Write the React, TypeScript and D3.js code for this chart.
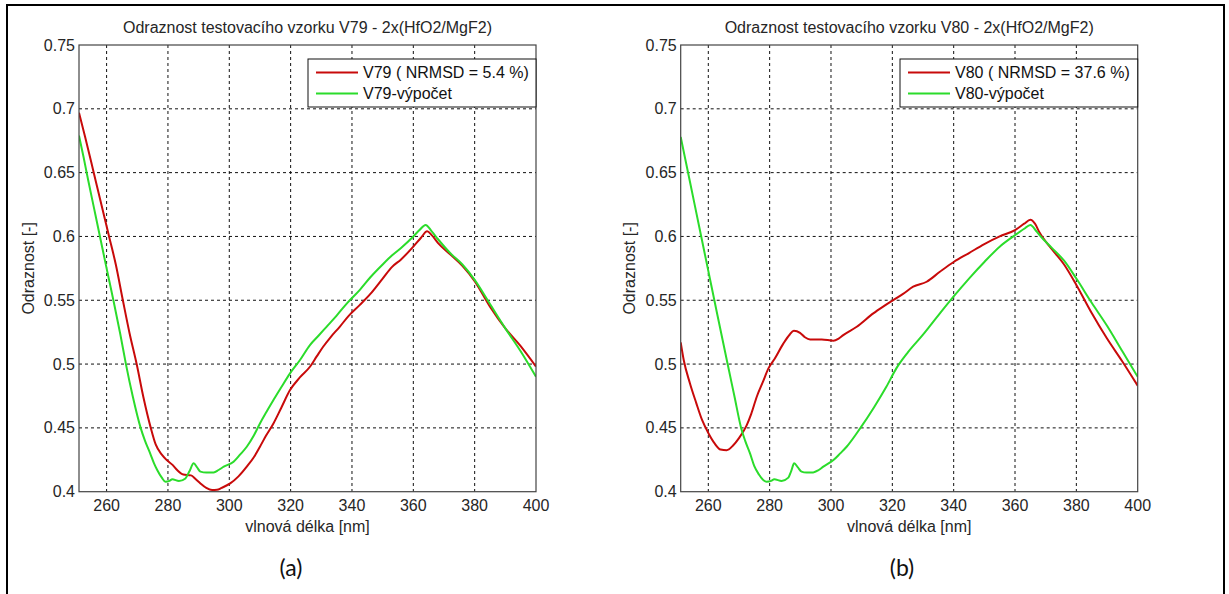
import React from "react";
import * as d3 from "d3";

// Axis ticks and ranges
const WAVELENGTH_TICKS = [260, 280, 300, 320, 340, 360, 380, 400];
const REFLECTANCE_TICKS = [0.4, 0.45, 0.5, 0.55, 0.6, 0.65, 0.7, 0.75];
const WAVELENGTH_RANGE = [251, 400];
const REFLECTANCE_RANGE = [0.4, 0.75];

// V79 – measured reflectance
const v79MeasuredNm = [251, 253, 256, 258, 260.8, 263, 265.3, 267.5, 269.8, 272, 274.4, 276, 278, 279.6, 281.5, 283, 285, 287.5, 289, 290.6, 292.5, 294.4, 296, 297.5, 300.3, 303, 305.7, 308, 310, 312, 314.4, 317, 319.8, 323, 326.3, 328.5, 330.6, 333, 336, 339, 342.5, 346, 350, 353, 356, 360, 362.5, 364.5, 366, 368, 372, 376, 380, 385, 390, 395, 400];
const v79MeasuredR = [0.697, 0.678, 0.648, 0.628, 0.6, 0.578, 0.55, 0.524, 0.5, 0.474, 0.45, 0.437, 0.429, 0.4248, 0.421, 0.417, 0.4135, 0.4128, 0.41, 0.4065, 0.403, 0.4013, 0.4015, 0.403, 0.4065, 0.412, 0.4196, 0.427, 0.4353, 0.444, 0.4535, 0.466, 0.4796, 0.4895, 0.4979, 0.506, 0.5136, 0.521, 0.5292, 0.538, 0.5462, 0.555, 0.567, 0.576, 0.582, 0.592, 0.599, 0.604, 0.601, 0.595, 0.586, 0.577, 0.565, 0.545, 0.528, 0.514, 0.498];

// V79 – calculated reflectance
const v79CalcNm = [251, 252.5, 254, 256, 258, 260, 262.3, 264.5, 266.3, 268.5, 271.1, 272.5, 274.2, 275.5, 276.5, 278, 279.2, 280.5, 281.4, 283.6, 285.7, 287, 288.4, 289.5, 290.6, 292.5, 294.9, 296.5, 298.2, 301.4, 303.5, 305.7, 308, 310, 312, 314.4, 317, 319.8, 323, 326.3, 329, 331.7, 335, 338.5, 342.5, 346, 350, 353, 356, 360, 362, 364, 366, 368, 372, 376, 380, 385, 390, 395, 400];
const v79CalcR = [0.679, 0.662, 0.644, 0.621, 0.598, 0.575, 0.549, 0.523, 0.5, 0.475, 0.45, 0.44, 0.43, 0.422, 0.417, 0.411, 0.4078, 0.4085, 0.4097, 0.4084, 0.4104, 0.416, 0.4222, 0.419, 0.4157, 0.415, 0.4151, 0.417, 0.4196, 0.4235, 0.429, 0.4352, 0.444, 0.4535, 0.462, 0.4718, 0.482, 0.4927, 0.503, 0.5149, 0.522, 0.5292, 0.538, 0.548, 0.558, 0.568, 0.578, 0.585, 0.591, 0.6, 0.605, 0.609, 0.604, 0.598, 0.587, 0.578, 0.566, 0.547, 0.528, 0.51, 0.49];

// V80 – measured reflectance
const v80MeasuredNm = [251, 252, 254, 256, 258, 260, 262, 264, 266, 268, 270, 272.5, 274, 275.8, 277.8, 279.6, 281.7, 284.5, 286.5, 287.9, 289.9, 291.5, 293.2, 297, 300.8, 302.5, 304, 308.4, 313.8, 317, 320.3, 323.5, 326.8, 331.2, 335.5, 340, 345, 350, 355, 360, 363, 365, 366.5, 368, 372, 376, 380, 385, 390, 395, 400];
const v80MeasuredR = [0.517, 0.503, 0.485, 0.47, 0.456, 0.446, 0.438, 0.433, 0.4325, 0.436, 0.442, 0.452, 0.461, 0.4744, 0.486, 0.4966, 0.5044, 0.5162, 0.523, 0.5261, 0.5245, 0.521, 0.5193, 0.5193, 0.5183, 0.52, 0.5227, 0.5292, 0.5397, 0.545, 0.5501, 0.555, 0.5606, 0.5645, 0.5723, 0.58, 0.587, 0.594, 0.6, 0.605, 0.61, 0.613, 0.61, 0.603, 0.59, 0.578, 0.562, 0.54, 0.52, 0.502, 0.483];

// V80 – calculated reflectance
const v80CalcNm = [251, 254, 257, 260, 263, 266.3, 268.5, 270.7, 272, 273.6, 275, 276.5, 278, 279, 280.5, 281.5, 283.9, 286.1, 287, 288, 289.2, 290.4, 292, 294.2, 296, 297.5, 300.8, 303, 305.1, 309.5, 314, 318, 321.4, 325, 330, 335.5, 340, 345, 350, 355, 360, 363, 365, 367, 368, 372, 376, 380, 385, 390, 395, 400];
const v80CalcR = [0.678, 0.643, 0.608, 0.573, 0.538, 0.5, 0.475, 0.45, 0.44, 0.43, 0.42, 0.4135, 0.409, 0.4078, 0.4085, 0.4097, 0.4084, 0.411, 0.416, 0.4222, 0.419, 0.4157, 0.415, 0.4151, 0.417, 0.4196, 0.4248, 0.43, 0.4352, 0.4496, 0.466, 0.482, 0.497, 0.509, 0.523, 0.5397, 0.553, 0.567, 0.58, 0.592, 0.601, 0.606, 0.609, 0.604, 0.601, 0.591, 0.581, 0.567, 0.548, 0.53, 0.51, 0.49];

const RED = "#c80a0a";
const GREEN = "#2bdc2b";
const TEXT = "#262626";
const FONT = "'Liberation Sans', Arial, Helvetica, sans-serif";

const PLOT_WIDTH = 457;
const PLOT_TOP = 45;
const PLOT_BOTTOM = 491.7;

type Pt = [number, number];
const zip = (a: number[], b: number[]): Pt[] => a.map((v, i) => [v, b[i]]);

interface PanelProps {
  left: number;
  title: string;
  tag: string;
  tagX: number;
  legendX: number;
  measuredLabel: string;
  calcLabel: string;
  measured: Pt[];
  calc: Pt[];
}

function Panel(p: PanelProps) {
  const x = d3.scaleLinear().domain(WAVELENGTH_RANGE).range([p.left, p.left + PLOT_WIDTH]);
  const y = d3.scaleLinear().domain(REFLECTANCE_RANGE).range([PLOT_BOTTOM, PLOT_TOP]);
  const line = d3
    .line<Pt>()
    .x((d) => x(d[0]))
    .y((d) => y(d[1]))
    .curve(d3.curveMonotoneX);

  const right = p.left + PLOT_WIDTH;
  const legendRight = right;
  const legendTop = 59;
  const legendBottom = 107;
  const clipId = `clip-${p.tag.replace(/\W/g, "")}`;

  return (
    <g>
      <defs>
        <clipPath id={clipId}>
          <rect x={p.left} y={PLOT_TOP} width={PLOT_WIDTH} height={PLOT_BOTTOM - PLOT_TOP} />
        </clipPath>
      </defs>
      <rect x={p.left} y={PLOT_TOP} width={PLOT_WIDTH} height={PLOT_BOTTOM - PLOT_TOP} fill="#fff" />
      {/* grid */}
      <g stroke="#111" strokeWidth={1} strokeDasharray="3,3">
        {WAVELENGTH_TICKS.filter((t) => t < 400).map((t) => (
          <line key={t} x1={x(t)} x2={x(t)} y1={PLOT_TOP} y2={PLOT_BOTTOM} />
        ))}
        {REFLECTANCE_TICKS.filter((t) => t > 0.4 && t < 0.75).map((t) => (
          <line key={t} x1={p.left} x2={right} y1={y(t)} y2={y(t)} />
        ))}
      </g>
      {/* curves */}
      <g clipPath={`url(#${clipId})`} fill="none" strokeWidth={2} strokeLinejoin="round">
        <path d={line(p.measured) ?? ""} stroke={RED} />
        <path d={line(p.calc) ?? ""} stroke={GREEN} />
      </g>
      {/* axes box */}
      <rect
        x={p.left}
        y={PLOT_TOP}
        width={PLOT_WIDTH}
        height={PLOT_BOTTOM - PLOT_TOP}
        fill="none"
        stroke="#444"
        strokeWidth={1.2}
      />
      {/* tick labels */}
      <g fontFamily={FONT} fontSize={16} fill={TEXT}>
        {REFLECTANCE_TICKS.map((t) => (
          <text key={t} x={p.left - 4} y={y(t)} textAnchor="end" dominantBaseline="central">
            {String(t)}
          </text>
        ))}
        {WAVELENGTH_TICKS.map((t) => (
          <text key={t} x={x(t)} y={PLOT_BOTTOM + 14} textAnchor="middle" dominantBaseline="central">
            {t}
          </text>
        ))}
        <text x={(p.left + right) / 2} y={PLOT_BOTTOM + 35} textAnchor="middle" dominantBaseline="central">
          vlnová délka [nm]
        </text>
        <text
          transform={`translate(${p.left - 51},${(PLOT_TOP + PLOT_BOTTOM) / 2}) rotate(-90)`}
          textAnchor="middle"
          dominantBaseline="central"
        >
          Odraznost [-]
        </text>
        <text x={(p.left + right) / 2} y={27} textAnchor="middle" dominantBaseline="central">
          {p.title}
        </text>
      </g>
      {/* legend */}
      <g>
        <rect
          x={p.legendX}
          y={legendTop}
          width={legendRight - p.legendX}
          height={legendBottom - legendTop}
          fill="#fff"
          stroke="#111"
          strokeWidth={1}
        />
        <line x1={p.legendX + 8} x2={p.legendX + 50} y1={72.5} y2={72.5} stroke={RED} strokeWidth={2} />
        <line x1={p.legendX + 8} x2={p.legendX + 50} y1={93.5} y2={93.5} stroke={GREEN} strokeWidth={2} />
        <g fontFamily={FONT} fontSize={16} fill="#111">
          <text x={p.legendX + 55} y={72.5} dominantBaseline="central">
            {p.measuredLabel}
          </text>
          <text x={p.legendX + 55} y={93.5} dominantBaseline="central">
            {p.calcLabel}
          </text>
        </g>
      </g>
      <text
        x={p.tagX}
        y={567}
        textAnchor="middle"
        dominantBaseline="central"
        fontFamily="Lato, 'Open Sans', sans-serif"
        fontSize={23}
        fill="#111"
      >
        {p.tag}
      </text>
    </g>
  );
}

export default function App() {
  return (
    <svg
      width={1229}
      height={594}
      viewBox="0 0 1229 594"
      style={{ position: "absolute", left: 0, top: 0, background: "#fff" }}
    >
      <rect x={0} y={0} width={1229} height={594} fill="#fff" />
      <rect x={7} y={5} width={1217} height={600} fill="none" stroke="#000" strokeWidth={2} />
      <Panel
        left={79}
        title="Odraznost testovacího vzorku V79 - 2x(HfO2/MgF2)"
        tag="(a)"
        tagX={291}
        legendX={308}
        measuredLabel="V79 ( NRMSD = 5.4 %)"
        calcLabel="V79-výpočet"
        measured={zip(v79MeasuredNm, v79MeasuredR)}
        calc={zip(v79CalcNm, v79CalcR)}
      />
      <Panel
        left={680.7}
        title="Odraznost testovacího vzorku V80 - 2x(HfO2/MgF2)"
        tag="(b)"
        tagX={902}
        legendX={900}
        measuredLabel="V80 ( NRMSD = 37.6 %)"
        calcLabel="V80-výpočet"
        measured={zip(v80MeasuredNm, v80MeasuredR)}
        calc={zip(v80CalcNm, v80CalcR)}
      />
    </svg>
  );
}
